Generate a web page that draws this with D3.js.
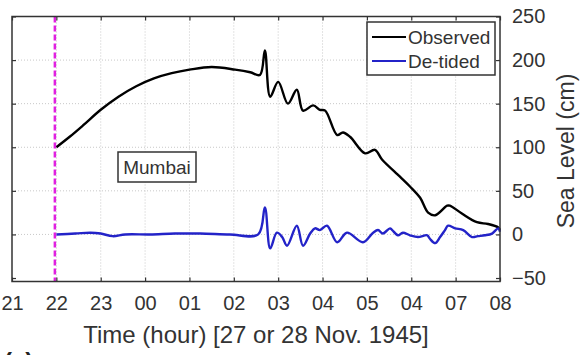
<!DOCTYPE html>
<html>
<head>
<meta charset="utf-8">
<script src="https://cdn.jsdelivr.net/npm/d3@7"></script>
<style>
  html, body { margin: 0; padding: 0; background: #fff; }
  svg { display: block; font-family: "Liberation Sans", Arial, sans-serif; }
</style>
</head>
<body>
<svg id="chart" width="585" height="355"></svg>
<script>
// Time in hours counted from 00:00 on 27 Nov (24 = 00 on 28 Nov)
const obsTime = [22.0, 22.3, 22.6, 23.0, 23.4, 23.8, 24.2, 24.6, 25.0, 25.5,
  26.03, 26.37, 26.59, 26.7, 26.82, 27.0, 27.22, 27.42, 27.56, 27.79, 27.94, 28.06, 28.33, 28.46,
  28.62, 28.96, 29.18, 29.34, 29.75, 29.97, 30.2, 30.38, 30.54, 30.81, 30.87, 31.14, 31.48, 31.73, 31.96, 32.0];
const obsLevel = [100, 112, 125, 143, 158, 170, 179, 185, 189, 192,
  189, 186, 183, 211, 158, 175, 150, 166, 142, 148, 143, 142, 114, 117,
  112, 93, 97, 86, 66, 55, 42, 25, 22, 33, 33, 24, 14, 12, 8, 5];

const detTime = [22.0, 22.43, 22.77, 23.0, 23.27, 23.55, 24.11, 24.67, 25.24, 25.91, 26.55, 26.7,
  26.82, 26.97, 27.09, 27.2, 27.42, 27.56, 27.72, 27.83, 27.94, 28.1, 28.33, 28.55, 28.91, 29.14,
  29.25, 29.36, 29.52, 29.57, 29.7, 29.81, 29.97, 30.15, 30.36, 30.42, 30.54, 30.65, 30.76, 30.83,
  30.99, 31.17, 31.37, 31.5, 31.66, 31.82, 31.96, 32.0];
const detLevel = [0, 1, 2, 1, -2, 0, 0, 1, 1, 0, 0, 31,
  -16, 2, -3, -13, 10, -13, 1, 7, 5, 10, -9, 2, -9, 2,
  5, 1, 7, 5, -1, 2, -1, -3, -1, -5, -10, -3, 5, 10,
  7, 5, -3, -2, -1, 1, 7, 3];

const xTicks = [21, 22, 23, 24, 25, 26, 27, 28, 29, 30, 31, 32];
const xTickLabels = ["21", "22", "23", "00", "01", "02", "03", "04", "05", "04", "07", "08"];
const yTicks = [-50, 0, 50, 100, 150, 200, 250];
const stormTime = 22;

const svg = d3.select("#chart");
const plotL = 12, plotR = 500, plotT = 16.5, plotB = 281.5;

const x = d3.scaleLinear().domain([21, 32]).range([plotL, plotR]);
const y = d3.scaleLinear().domain([-54, 250]).range([plotB, plotT]);

// grid
const grid = svg.append("g").attr("stroke", "#c8c8c8").attr("stroke-width", 1).attr("stroke-dasharray", "1,2");
grid.selectAll("line.gx").data(xTicks.slice(1, -1)).join("line")
  .attr("x1", d => x(d)).attr("x2", d => x(d)).attr("y1", plotT).attr("y2", plotB);
grid.selectAll("line.gy").data(yTicks.filter(d => d > -50 && d < 250)).join("line")
  .attr("y1", d => y(d)).attr("y2", d => y(d)).attr("x1", plotL).attr("x2", plotR);

// lines
const line = d3.line().x(d => x(d[0])).y(d => y(d[1])).curve(d3.curveCatmullRom.alpha(0.5));
svg.append("path").datum(obsTime.map((t, i) => [t, obsLevel[i]]))
  .attr("fill", "none").attr("stroke", "#000").attr("stroke-width", 2.4)
  .attr("stroke-linejoin", "round").attr("d", line);
svg.append("path").datum(detTime.map((t, i) => [t, detLevel[i]]))
  .attr("fill", "none").attr("stroke", "#2323c8").attr("stroke-width", 2.4)
  .attr("stroke-linejoin", "round").attr("d", line);

// storm time marker
svg.append("line").attr("x1", x(stormTime) - 1.5).attr("x2", x(stormTime) - 1.5)
  .attr("y1", plotT).attr("y2", plotB)
  .attr("stroke", "#e020e0").attr("stroke-width", 2.5).attr("stroke-dasharray", "6,3");

// axes (ticks inward on all sides)
const tickLen = 4;
const axBottom = d3.axisBottom(x).tickValues(xTicks).tickSize(-tickLen).tickPadding(14)
  .tickFormat((d, i) => xTickLabels[i]);
const gb = svg.append("g").attr("transform", `translate(0,${plotB})`).call(axBottom);
const axTop = d3.axisTop(x).tickValues(xTicks).tickSize(-tickLen).tickFormat("");
const gt = svg.append("g").attr("transform", `translate(0,${plotT})`).call(axTop);
const axRight = d3.axisRight(y).tickValues(yTicks).tickSize(-tickLen).tickPadding(12);
const gr = svg.append("g").attr("transform", `translate(${plotR},0)`).call(axRight);
const axLeft = d3.axisLeft(y).tickValues(yTicks).tickSize(-tickLen).tickFormat("");
const gl = svg.append("g").attr("transform", `translate(${plotL},0)`).call(axLeft);
[gb, gt, gr, gl].forEach(g => {
  g.select(".domain").remove();
  g.selectAll(".tick line").attr("stroke", "#333").attr("stroke-width", 1.2);
  g.selectAll(".tick text").attr("fill", "#333").style("font-size", "20px");
});

// frame
svg.append("rect").attr("x", plotL).attr("y", plotT).attr("width", plotR - plotL).attr("height", plotB - plotT)
  .attr("fill", "none").attr("stroke", "#333").attr("stroke-width", 1.5);

// axis titles
svg.append("text").attr("x", (plotL + plotR) / 2).attr("y", 343).attr("text-anchor", "middle")
  .attr("fill", "#333").style("font-size", "24px").text("Time (hour) [27 or 28 Nov. 1945]");
svg.append("text").attr("transform", `translate(574,151) rotate(-90)`)
  .attr("text-anchor", "middle").attr("fill", "#333").style("font-size", "23px").text("Sea Level (cm)");

// panel letter
svg.append("text").attr("x", 4).attr("y", 370).attr("fill", "#222")
  .style("font-size", "24px").style("font-weight", "bold").text("(c)");

// station label
svg.append("rect").attr("x", 118).attr("y", 152).attr("width", 78).attr("height", 30)
  .attr("fill", "#fff").attr("stroke", "#333").attr("stroke-width", 1.5);
svg.append("text").attr("x", 157).attr("y", 174).attr("text-anchor", "middle")
  .attr("fill", "#333").style("font-size", "19px").text("Mumbai");

// legend
const legend = svg.append("g");
legend.append("rect").attr("x", 367).attr("y", 22).attr("width", 128).attr("height", 53)
  .attr("fill", "#fff").attr("stroke", "#333").attr("stroke-width", 1.5);
const entries = [["Observed", "#000", 37], ["De-tided", "#2323c8", 61]];
entries.forEach(([name, color, cy]) => {
  legend.append("line").attr("x1", 372).attr("x2", 406).attr("y1", cy).attr("y2", cy)
    .attr("stroke", color).attr("stroke-width", 2);
  legend.append("text").attr("x", 408).attr("y", cy + 7).attr("fill", "#333")
    .style("font-size", "19px").text(name);
});
</script>
</body>
</html>
